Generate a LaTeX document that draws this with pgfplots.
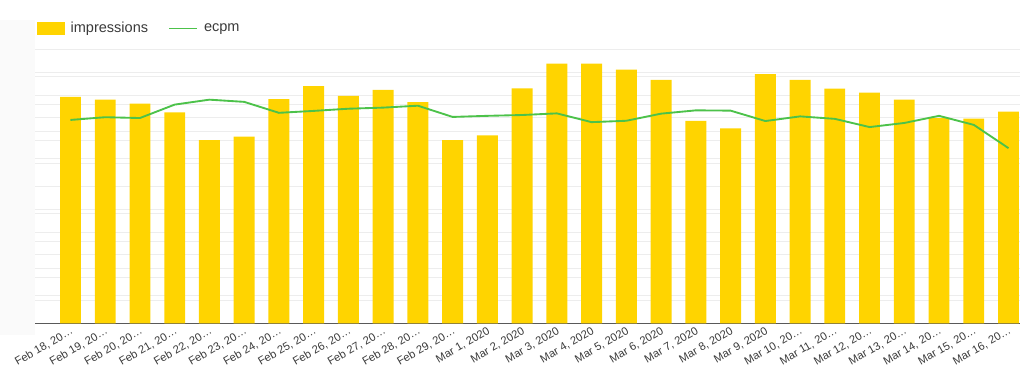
\documentclass[border=0pt]{standalone}
\usepackage{fontspec}
\setmainfont{Liberation Sans}
\usepackage{pgfplots}
\pgfplotsset{compat=1.18}
\definecolor{baryellow}{HTML}{FFD400}
\definecolor{linegreen}{HTML}{4CC24A}
\definecolor{gridgray}{HTML}{EDEDED}
\definecolor{txtgray}{HTML}{3A3A3A}
\definecolor{panelgray}{HTML}{FAFAFA}
\begin{document}
\begin{tikzpicture}
\path[use as bounding box] (0pt,0pt) rectangle (768pt,279.75pt);
\fill[panelgray] (0pt,28.5pt) rectangle (26.25pt,264.75pt);
\begin{axis}[
  at={(26.25pt,37.3pt)}, anchor=south west,
  scale only axis, width=738.75pt, height=205.5pt,
  xmin=-1.02, xmax=27.33, ymin=0, ymax=12,
  axis x line*=bottom, axis y line*=left,
  x axis line style={-, draw=black!65, line width=1.1pt},
  y axis line style={draw=none},
  xtick={0,...,27},
  xticklabels={{Feb 18, 20…},{Feb 19, 20…},{Feb 20, 20…},{Feb 21, 20…},{Feb 22, 20…},{Feb 23, 20…},{Feb 24, 20…},{Feb 25, 20…},{Feb 26, 20…},{Feb 27, 20…},{Feb 28, 20…},{Feb 29, 20…},{Mar 1, 2020},{Mar 2, 2020},{Mar 3, 2020},{Mar 4, 2020},{Mar 5, 2020},{Mar 6, 2020},{Mar 7, 2020},{Mar 8, 2020},{Mar 9, 2020},{Mar 10, 20…},{Mar 11, 20…},{Mar 12, 20…},{Mar 13, 20…},{Mar 14, 20…},{Mar 15, 20…},{Mar 16, 20…}},
  xticklabel style={rotate=30, anchor=north east, font=\fontsize{8.4pt}{10pt}\selectfont, text=txtgray, inner sep=1.5pt},
  ytick={0,...,12}, yticklabels={},
  extra y ticks={1.2,2.4,3.6,4.8,6,7.2,8.4,9.6,10.8},
  extra y tick labels={},
  extra y tick style={grid=major},
  major tick length=0pt,
  ymajorgrids, major grid style={gridgray, line width=0.6pt},
  legend style={at={(0,1)}, anchor=west, yshift=15.6pt, xshift=-2pt, draw=none, fill=none,
    legend columns=2, font=\fontsize{10.9pt}{12pt}\selectfont, text=txtgray,
    /tikz/every odd column/.append style={column sep=2.5pt},
    /tikz/every even column/.append style={column sep=13pt}},
  legend cell align=left,
]
\addplot[ybar, bar width=0.6, fill=baryellow, draw=none,
  legend image code/.code={\fill[baryellow] (0pt,-4.9pt) rectangle (21pt,4.9pt);}]
  coordinates {
  (0,9.91) (1,9.79) (2,9.62) (3,9.24) (4,8.02) (5,8.17) (6,9.82)
  (7,10.38) (8,9.96) (9,10.22) (10,9.69) (11,8.02) (12,8.23) (13,10.29)
  (14,11.37) (15,11.37) (16,11.11) (17,10.66) (18,8.86) (19,8.54) (20,10.91)
  (21,10.66) (22,10.28) (23,10.10) (24,9.79) (25,8.98) (26,8.96) (27,9.27)
  };
\addlegendentry{impressions}
\addlegendimage{legend image code/.code={\draw[linegreen, line width=1.4pt] (0pt,0pt) -- (21pt,0pt);}}
\addlegendentry{ecpm}
\end{axis}
\begin{axis}[
  at={(26.25pt,37.3pt)}, anchor=south west,
  scale only axis, width=738.75pt, height=205.5pt,
  xmin=-1.02, xmax=27.33, ymin=0, ymax=10,
  hide axis,
]
\addplot[linegreen, line width=1.4pt, mark=none]
  coordinates {
  (0,7.42) (1,7.52) (2,7.49) (3,7.98) (4,8.16) (5,8.08) (6,7.68)
  (7,7.75) (8,7.83) (9,7.87) (10,7.94) (11,7.53) (12,7.57) (13,7.60)
  (14,7.66) (15,7.34) (16,7.39) (17,7.65) (18,7.77) (19,7.76) (20,7.38)
  (21,7.55) (22,7.46) (23,7.16) (24,7.31) (25,7.57) (26,7.24) (27,6.39)
  };
\end{axis}
\end{tikzpicture}
\end{document}
